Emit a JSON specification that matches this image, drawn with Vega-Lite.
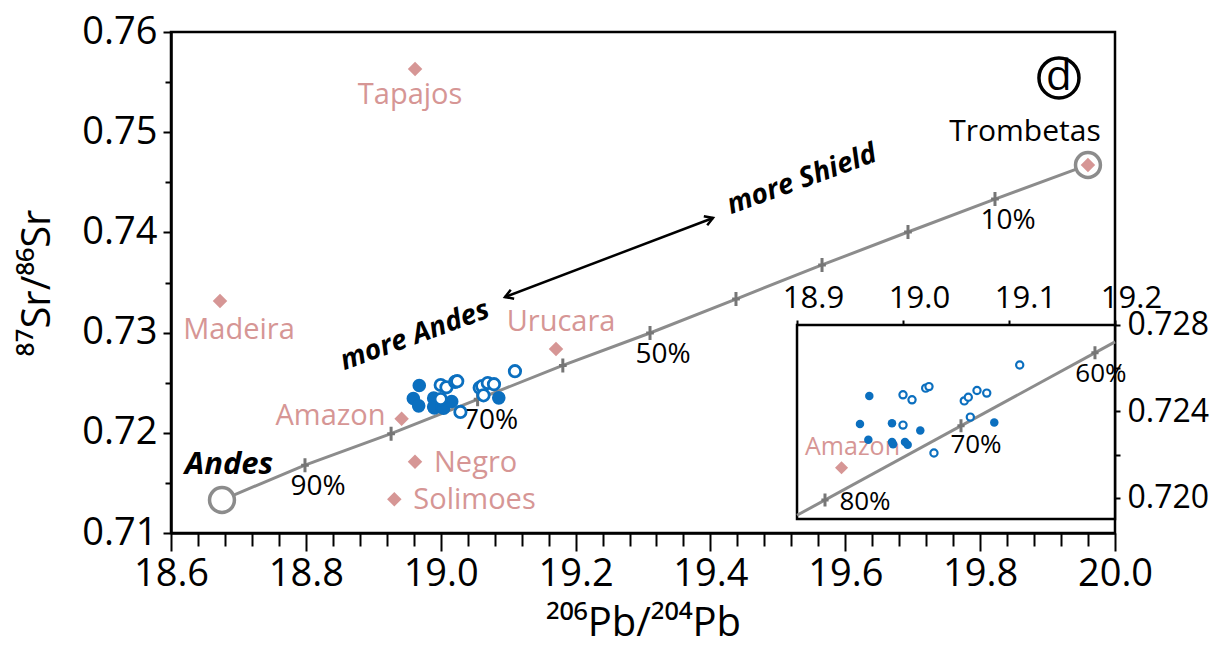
{
  "$schema": "https://vega.github.io/schema/vega-lite/v6.json",
  "width": 944,
  "height": 501,
  "autosize": "none",
  "padding": {"left": 171, "top": 32, "right": 109, "bottom": 124},
  "background": "white",
  "config": {
    "font": "Open Sans",
    "view": {"stroke": "black", "strokeWidth": 2.5},
    "axis": {
      "grid": false,
      "domainColor": "black",
      "domainWidth": 2.5,
      "tickColor": "black",
      "tickWidth": 2,
      "labelColor": "black",
      "titleColor": "black",
      "labelFont": "Open Sans",
      "titleFont": "Open Sans",
      "titleFontWeight": "normal",
      "labelFlush": false,
      "labelOverlap": false
    }
  },
  "datasets": {
    "samples": [
      {"kind": "filled", "x": 18.9682, "y": 0.72472},
      {"kind": "filled", "x": 18.9594, "y": 0.72342},
      {"kind": "filled", "x": 18.9673, "y": 0.72269},
      {"kind": "filled", "x": 18.9896, "y": 0.72346},
      {"kind": "filled", "x": 18.9896, "y": 0.72259},
      {"kind": "filled", "x": 18.9906, "y": 0.72248},
      {"kind": "filled", "x": 19.0019, "y": 0.72259},
      {"kind": "filled", "x": 19.0044, "y": 0.72246},
      {"kind": "filled", "x": 19.0163, "y": 0.72312},
      {"kind": "filled", "x": 19.0861, "y": 0.72349},
      {"kind": "open", "x": 19.0000, "y": 0.72477},
      {"kind": "open", "x": 19.0085, "y": 0.72454},
      {"kind": "open", "x": 19.0214, "y": 0.72508},
      {"kind": "open", "x": 19.0245, "y": 0.72515},
      {"kind": "open", "x": 19.0000, "y": 0.72337},
      {"kind": "open", "x": 19.0292, "y": 0.72208},
      {"kind": "open", "x": 19.0578, "y": 0.72449},
      {"kind": "open", "x": 19.0616, "y": 0.72466},
      {"kind": "open", "x": 19.0698, "y": 0.72497},
      {"kind": "open", "x": 19.0790, "y": 0.72485},
      {"kind": "open", "x": 19.0635, "y": 0.72374},
      {"kind": "open", "x": 19.1101, "y": 0.72615}
    ],
    "rivers": [
      {"name": "Tapajos", "x": 18.962, "y": 0.75631},
      {"name": "Trombetas", "x": 19.9599, "y": 0.74673},
      {"name": "Madeira", "x": 18.6727, "y": 0.73315},
      {"name": "Urucara", "x": 19.171, "y": 0.72836},
      {"name": "Amazon", "x": 18.942, "y": 0.7214},
      {"name": "Negro", "x": 18.9619, "y": 0.71712},
      {"name": "Solimoes", "x": 18.9312, "y": 0.71336}
    ],
    "endmembers": [
      {"name": "Andes", "x": 18.6756, "y": 0.71329},
      {"name": "Trombetas", "x": 19.9599, "y": 0.74673}
    ],
    "mixing": [
      {"pct": null, "label": "", "x": 18.6756, "y": 0.71329},
      {"pct": 90, "label": "90%", "x": 18.7987, "y": 0.71677},
      {"pct": 80, "label": "80%", "x": 18.9264, "y": 0.71991},
      {"pct": 70, "label": "70%", "x": 19.0547, "y": 0.72334},
      {"pct": 60, "label": "60%", "x": 19.1811, "y": 0.72672},
      {"pct": 50, "label": "50%", "x": 19.3104, "y": 0.72996},
      {"pct": 40, "label": "40%", "x": 19.4379, "y": 0.73335},
      {"pct": 30, "label": "30%", "x": 19.5655, "y": 0.73675},
      {"pct": 20, "label": "20%", "x": 19.693, "y": 0.74004},
      {"pct": 10, "label": "10%", "x": 19.822, "y": 0.74333},
      {"pct": null, "label": "", "x": 19.9599, "y": 0.74673}
    ],
    "insetLine": [
      {"x": 18.9, "y": 0.7192},
      {"x": 19.2, "y": 0.72722}
    ],
    "insetFrame": [
      {"x": 18.9, "x2": 19.2, "y": 0.71903, "y2": 0.728}
    ],
    "arrow": [
      {"x": 19.0953, "y": 0.73355, "x2": 19.4038, "y2": 0.74144}
    ],
    "arrowheads": [
      {"end": "left", "x": 19.0953, "y": 0.73355},
      {"end": "right", "x": 19.4038, "y": 0.74144}
    ],
    "notes": [
      {"text": "more Andes", "x": 18.9619, "y": 0.72966},
      {"text": "more Shield", "x": 19.5358, "y": 0.74523}
    ],
    "badge": [
      {"text": "d", "x": 19.9169, "y": 0.75541}
    ]
  },
  "layer": [
    {
      "encoding": {
        "x": {
          "field": "x", "type": "quantitative",
          "scale": {"domain": [18.6, 20.0], "nice": false, "zero": false},
          "axis": {
            "orient": "bottom",
            "title": "²⁰⁶Pb/²⁰⁴Pb",
            "titleFontSize": 40,
            "titlePadding": 10,
            "values": [18.6, 18.64, 18.68, 18.72, 18.76, 18.8, 18.84, 18.88, 18.92, 18.96, 19.0, 19.04, 19.08, 19.12, 19.16, 19.2, 19.24, 19.28, 19.32, 19.36, 19.4, 19.44, 19.48, 19.52, 19.56, 19.6, 19.64, 19.68, 19.72, 19.76, 19.8, 19.84, 19.88, 19.92, 19.96, 20.0],
            "labelExpr": "abs(datum.value * 5 - round(datum.value * 5)) < 0.001 ? format(datum.value, '.1f') : ''",
            "tickSize": {"condition": {"test": "abs(datum.value * 5 - round(datum.value * 5)) < 0.001", "value": 18}, "value": 13},
            "labelFontSize": 38,
            "labelPadding": 4
          }
        },
        "y": {
          "field": "y", "type": "quantitative",
          "scale": {"domain": [0.71, 0.76], "nice": false, "zero": false},
          "axis": {
            "orient": "left",
            "title": "⁸⁷Sr/⁸⁶Sr",
            "titleFontSize": 40,
            "titlePadding": 24,
            "values": [0.71, 0.715, 0.72, 0.725, 0.73, 0.735, 0.74, 0.745, 0.75, 0.755, 0.76],
            "labelExpr": "abs(datum.value * 100 - round(datum.value * 100)) < 0.001 ? format(datum.value, '.2f') : ''",
            "tickSize": {"condition": {"test": "abs(datum.value * 100 - round(datum.value * 100)) < 0.001", "value": 8}, "value": 6},
            "labelFontSize": 38,
            "labelPadding": 6
          }
        }
      },
      "layer": [
        {
          "data": {"name": "mixing"},
          "mark": {"type": "line", "color": "#8c8c8c", "strokeWidth": 3}
        },
        {
          "data": {"name": "mixing"},
          "transform": [{"filter": "isValid(datum.pct)"}],
          "mark": {"type": "point", "shape": "M-0.55,0H0.55M0,-1V1", "filled": false, "stroke": "#767676", "strokeWidth": 3, "size": 196, "opacity": 1}
        },
        {
          "data": {"name": "endmembers"},
          "mark": {"type": "point", "shape": "circle", "filled": true, "fill": "white", "stroke": "#8c8c8c", "strokeWidth": 3.5, "size": 620, "opacity": 1}
        },
        {
          "data": {"name": "rivers"},
          "mark": {"type": "point", "shape": "diamond", "filled": true, "color": "#d69695", "size": 210, "opacity": 1}
        },
        {
          "data": {"name": "endmembers"},
          "transform": [{"filter": "datum.name == 'Andes'"}],
          "mark": {"type": "text", "fontSize": 31, "fontWeight": "bold", "fontStyle": "italic", "color": "black", "align": "center", "baseline": "middle", "dx": 7, "dy": -35},
          "encoding": {"text": {"field": "name"}}
        },
        {
          "data": {"name": "rivers"},
          "transform": [{"filter": "datum.name == 'Trombetas'"}],
          "mark": {"type": "text", "fontSize": 30, "color": "black", "align": "center", "baseline": "middle", "dx": -63, "dy": -33},
          "encoding": {"text": {"field": "name"}}
        },
        {
          "data": {"name": "rivers"},
          "transform": [{"filter": "datum.name == 'Tapajos'"}],
          "mark": {"type": "text", "fontSize": 29, "color": "#d69695", "align": "center", "baseline": "middle", "dx": -5, "dy": 26},
          "encoding": {"text": {"field": "name"}}
        },
        {
          "data": {"name": "rivers"},
          "transform": [{"filter": "datum.name == 'Madeira'"}],
          "mark": {"type": "text", "fontSize": 29, "color": "#d69695", "align": "center", "baseline": "middle", "dx": 19, "dy": 29},
          "encoding": {"text": {"field": "name"}}
        },
        {
          "data": {"name": "rivers"},
          "transform": [{"filter": "datum.name == 'Urucara'"}],
          "mark": {"type": "text", "fontSize": 29, "color": "#d69695", "align": "center", "baseline": "middle", "dx": 5, "dy": -27},
          "encoding": {"text": {"field": "name"}}
        },
        {
          "data": {"name": "rivers"},
          "transform": [{"filter": "datum.name == 'Amazon'"}],
          "mark": {"type": "text", "fontSize": 29, "color": "#d69695", "align": "right", "baseline": "middle", "dx": -16, "dy": -3},
          "encoding": {"text": {"field": "name"}}
        },
        {
          "data": {"name": "rivers"},
          "transform": [{"filter": "datum.name == 'Negro' || datum.name == 'Solimoes'"}],
          "mark": {"type": "text", "fontSize": 29, "color": "#d69695", "align": "left", "baseline": "middle", "dx": 19, "dy": 1},
          "encoding": {"text": {"field": "name"}}
        },
        {
          "data": {"name": "mixing"},
          "transform": [{"filter": "datum.pct == 90 || datum.pct == 70 || datum.pct == 50 || datum.pct == 10"}],
          "mark": {"type": "text", "fontSize": 28, "color": "black", "align": "center", "baseline": "middle", "dx": 13, "dy": 22},
          "encoding": {"text": {"field": "label"}}
        },
        {
          "data": {"name": "samples"},
          "transform": [{"filter": "datum.kind == 'filled'"}],
          "mark": {"type": "point", "shape": "circle", "filled": true, "color": "#0b6fbf", "size": 185, "opacity": 1}
        },
        {
          "data": {"name": "samples"},
          "transform": [{"filter": "datum.kind == 'open'"}],
          "mark": {"type": "point", "shape": "circle", "filled": true, "fill": "white", "stroke": "#0b6fbf", "strokeWidth": 2.8, "size": 130, "opacity": 1}
        },
        {
          "data": {"name": "arrow"},
          "mark": {"type": "rule", "color": "black", "strokeWidth": 2.5},
          "encoding": {"x2": {"field": "x2"}, "y2": {"field": "y2"}}
        },
        {
          "data": {"name": "arrowheads"},
          "mark": {"type": "point", "filled": false, "stroke": "black", "strokeWidth": 2.5, "size": 256, "angle": -20.8, "opacity": 1},
          "encoding": {
            "shape": {"field": "end", "type": "nominal", "scale": {"domain": ["left", "right"], "range": ["M1,-0.6L0,0L1,0.6", "M-1,-0.6L0,0L-1,0.6"]}, "legend": null}
          }
        },
        {
          "data": {"name": "notes"},
          "mark": {"type": "text", "fontSize": 28, "fontWeight": "bold", "fontStyle": "italic", "color": "black", "align": "center", "baseline": "middle", "angle": -20},
          "encoding": {"text": {"field": "text"}}
        },
        {
          "data": {"name": "badge"},
          "mark": {"type": "point", "shape": "circle", "filled": false, "stroke": "black", "strokeWidth": 3.5, "size": 1600, "opacity": 1}
        },
        {
          "data": {"name": "badge"},
          "mark": {"type": "text", "fontSize": 42, "color": "black", "align": "center", "baseline": "middle", "dy": -1},
          "encoding": {"text": {"field": "text"}}
        }
      ]
    },
    {
      "encoding": {
        "x": {
          "field": "x", "type": "quantitative",
          "scale": {"domain": [18.3094, 19.2], "nice": false, "zero": false},
          "axis": {
            "orient": "top",
            "offset": -293,
            "title": null,
            "domain": false,
            "values": [18.9, 19.0, 19.1, 19.2],
            "format": ".1f",
            "tickSize": 5,
            "labelFontSize": 31,
            "labelPadding": 6,
            "labelOffset": 16
          }
        },
        "y": {
          "field": "y", "type": "quantitative",
          "scale": {"domain": [0.71838, 0.74155], "nice": false, "zero": false},
          "axis": {
            "orient": "right",
            "title": null,
            "domain": false,
            "values": [0.72, 0.722, 0.724, 0.726, 0.728],
            "labelExpr": "round(datum.value * 1000) % 4 == 0 ? format(datum.value, '.3f') : ''",
            "tickSize": 5,
            "labelFontSize": 32,
            "labelPadding": 7
          }
        }
      },
      "layer": [
        {
          "data": {"name": "insetFrame"},
          "mark": {"type": "rect", "fill": "white", "stroke": "black", "strokeWidth": 2.5},
          "encoding": {"x2": {"field": "x2"}, "y2": {"field": "y2"}}
        },
        {
          "data": {"name": "insetLine"},
          "mark": {"type": "line", "color": "#8c8c8c", "strokeWidth": 3}
        },
        {
          "data": {"name": "mixing"},
          "transform": [{"filter": "datum.pct == 80 || datum.pct == 70 || datum.pct == 60"}],
          "mark": {"type": "point", "shape": "M-0.55,0H0.55M0,-1V1", "filled": false, "stroke": "#767676", "strokeWidth": 3, "size": 170, "opacity": 1}
        },
        {
          "data": {"name": "rivers"},
          "transform": [{"filter": "datum.name == 'Amazon'"}],
          "mark": {"type": "point", "shape": "diamond", "filled": true, "color": "#d69695", "size": 170, "opacity": 1}
        },
        {
          "data": {"name": "rivers"},
          "transform": [{"filter": "datum.name == 'Amazon'"}],
          "mark": {"type": "text", "fontSize": 25, "color": "#d69695", "align": "center", "baseline": "middle", "dx": 11, "dy": -21},
          "encoding": {"text": {"field": "name"}}
        },
        {
          "data": {"name": "samples"},
          "transform": [{"filter": "datum.kind == 'filled'"}],
          "mark": {"type": "point", "shape": "circle", "filled": true, "color": "#0b6fbf", "size": 72, "opacity": 1}
        },
        {
          "data": {"name": "samples"},
          "transform": [{"filter": "datum.kind == 'open'"}],
          "mark": {"type": "point", "shape": "circle", "filled": true, "fill": "white", "stroke": "#0b6fbf", "strokeWidth": 2.2, "size": 52, "opacity": 1}
        },
        {
          "data": {"name": "mixing"},
          "transform": [{"filter": "datum.pct == 80"}],
          "mark": {"type": "text", "fontSize": 26, "color": "black", "align": "center", "baseline": "middle", "dx": 40, "dy": 2},
          "encoding": {"text": {"field": "label"}}
        },
        {
          "data": {"name": "mixing"},
          "transform": [{"filter": "datum.pct == 70"}],
          "mark": {"type": "text", "fontSize": 26, "color": "black", "align": "center", "baseline": "middle", "dx": 15, "dy": 19},
          "encoding": {"text": {"field": "label"}}
        },
        {
          "data": {"name": "mixing"},
          "transform": [{"filter": "datum.pct == 60"}],
          "mark": {"type": "text", "fontSize": 26, "color": "black", "align": "center", "baseline": "middle", "dx": 6, "dy": 21},
          "encoding": {"text": {"field": "label"}}
        }
      ]
    }
  ],
  "resolve": {"scale": {"x": "independent", "y": "independent"}}
}
